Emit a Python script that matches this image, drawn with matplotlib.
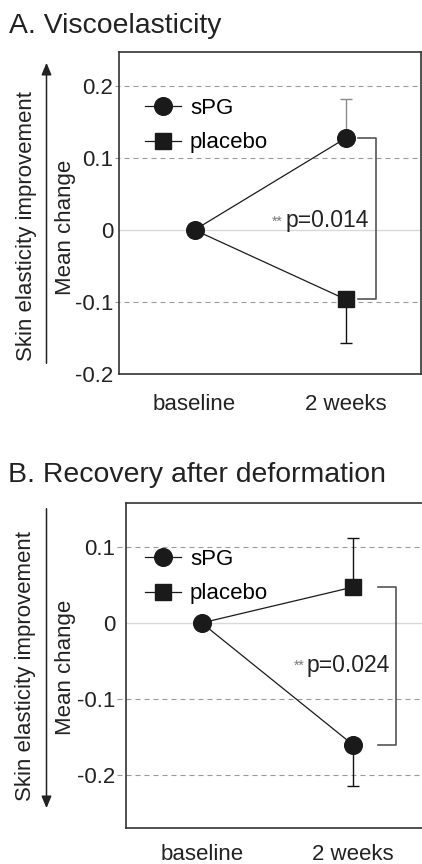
import matplotlib
matplotlib.use('Agg')
import matplotlib.pyplot as plt

plt.rcParams['font.family'] = ['Liberation Sans', 'DejaVu Sans']

W, H = 422, 864  # figure size in pixels

### Data ###
timepoints = ['baseline', '2 weeks']
groups = ['sPG', 'placebo']

# A. Viscoelasticity
visco_spg = [0, 0.127]
visco_spg_err = [0, 0.055]    # drawn upwards
visco_pla = [0, -0.096]
visco_pla_err = [0, 0.060]    # drawn downwards
visco_p = 'p=0.014'
visco_ticks = [-0.2, -0.1, 0, 0.1, 0.2]
visco_ticklabels = ['-0.2', '-0.1', '0', '0.1', '0.2']

# B. Recovery after deformation
recov_spg = [0, -0.160]
recov_spg_err = [0, 0.054]    # drawn downwards
recov_pla = [0, 0.047]
recov_pla_err = [0, 0.065]    # drawn upwards
recov_p = 'p=0.024'
recov_ticks = [-0.2, -0.1, 0, 0.1]
recov_ticklabels = ['-0.2', '-0.1', '0', '0.1']


def fx(px):
    return px / W


def fy(py):
    return 1 - py / H


def panel(ax, spg, spg_err, spg_up, pla, pla_err, ylim, ticks, ticklabels,
          spg_ecolor, grid_ext, tick_pad, xpad, bracket_x, ptext, p_xy):
    x = list(range(len(timepoints)))
    ax.set_xlim(-0.5, 1.5)
    ax.set_ylim(*ylim)

    # grid: dashed lines reaching out to the tick labels, light solid zero line
    for t in ticks:
        if t == 0:
            ax.axhline(0, color='#d9d9d9', lw=1, zorder=0)
        elif t > ylim[0] + 1e-6:
            ax.plot([-grid_ext, 1], [t, t], transform=ax.get_yaxis_transform(),
                    clip_on=False, color='#9a9a9a', lw=0.8,
                    ls=(0, (4.5, 3.6)), zorder=0)

    # one-sided error bars at 2 weeks
    def err(mean, e, up, color):
        lo = [0] * len(e) if up else e
        hi = e if up else [0] * len(e)
        ax.errorbar(x[1:], mean[1:], yerr=[lo[1:], hi[1:]], fmt='none',
                    ecolor=color, elinewidth=1, capsize=4.5, capthick=1,
                    zorder=2)

    err(spg, spg_err, spg_up, spg_ecolor)
    err(pla, pla_err, not spg_up, '#111111')

    # baseline point only shows the circle
    l_pla, = ax.plot(x, pla, color='#1a1a1a', lw=0.9, marker='s', ms=11,
                     markevery=[1], label=groups[1], zorder=3)
    l_spg, = ax.plot(x, spg, color='#1a1a1a', lw=0.9, marker='o', ms=12.7,
                     label=groups[0], zorder=4)

    # significance bracket
    top = max(spg[1], pla[1])
    bot = min(spg[1], pla[1])
    ax.plot([bracket_x[0], bracket_x[1], bracket_x[1], bracket_x[0]],
            [top, top, bot, bot], color='#555555', lw=1.2, zorder=2)
    ax.text(p_xy[0], p_xy[1], ptext, fontsize=16.5, ha='left', va='baseline',
            color='#222222')
    ax.text(p_xy[0] - 0.015, p_xy[1] + 0.002, '**', fontsize=10, ha='right',
            va='baseline', color='#777777')

    ax.set_xticks(x)
    ax.set_xticklabels(timepoints, fontsize=16, color='#222222')
    ax.set_yticks(ticks)
    ax.set_yticklabels(ticklabels, fontsize=16, color='#222222')
    ax.tick_params(axis='both', length=0)
    ax.tick_params(axis='y', pad=tick_pad)
    ax.tick_params(axis='x', pad=xpad)
    for s in ax.spines.values():
        s.set_color('#333333')
        s.set_linewidth(1.2)
    return [l_spg, l_pla]


fig = plt.figure(figsize=(W / 100, H / 100), dpi=100)

legend_kw = dict(loc='upper left', bbox_transform=fig.transFigure,
                 frameon=False, fontsize=16, handlelength=1.62,
                 handletextpad=0.4, labelspacing=0.6, borderpad=0,
                 borderaxespad=0)

### Panel A ###
axA = fig.add_axes([fx(119), fy(374.3), 302 / W, (374.3 - 51.7) / H])
hA = panel(axA, visco_spg, visco_spg_err, True, visco_pla, visco_pla_err,
           (-0.2, 0.247), visco_ticks, visco_ticklabels, '#8a8a8a',
           0.013, 4.1, 14.5, (1.08, 1.20), visco_p, (0.60, 0.004))
axA.legend(hA, groups, bbox_to_anchor=(fx(145), fy(98)), **legend_kw)

### Panel B ###
axB = fig.add_axes([fx(126.2), fy(828), 302 / W, (828 - 503.3) / H])
hB = panel(axB, recov_spg, recov_spg_err, False, recov_pla, recov_pla_err,
           (-0.2697, 0.1573), recov_ticks, recov_ticklabels, '#111111',
           0.03, 8, 11.5, (1.17, 1.29), recov_p, (0.695, -0.064))
axB.legend(hB, groups, bbox_to_anchor=(fx(145), fy(549)), **legend_kw)

### Titles and side labels ###
fig.text(fx(9), fy(33), 'A. Viscoelasticity', fontsize=20.4, va='baseline',
         color='#222222')
fig.text(fx(8), fy(482), 'B. Recovery after deformation', fontsize=20.4,
         va='baseline', color='#222222')

for yc, arrow in [((227, 65, 27), (366, 60)), ((667, 65, 26), (506, 811))]:
    fig.text(fx(yc[2]), fy(yc[0] - 1), 'Skin elasticity improvement',
             rotation=90, fontsize=16, ha='center', va='center',
             color='#222222')
    fig.text(fx(yc[1]), fy(yc[0]), 'Mean change', rotation=90, fontsize=16,
             ha='center', va='center', color='#222222')
    fig.add_artist(matplotlib.patches.FancyArrowPatch(
        (fx(46.5), fy(arrow[0])), (fx(46.5), fy(arrow[1])),
        transform=fig.transFigure, arrowstyle='-|>,head_length=0.6,head_width=0.25',
        mutation_scale=12, color='#222222', lw=1.1))

fig.savefig('out.png', dpi=100)
